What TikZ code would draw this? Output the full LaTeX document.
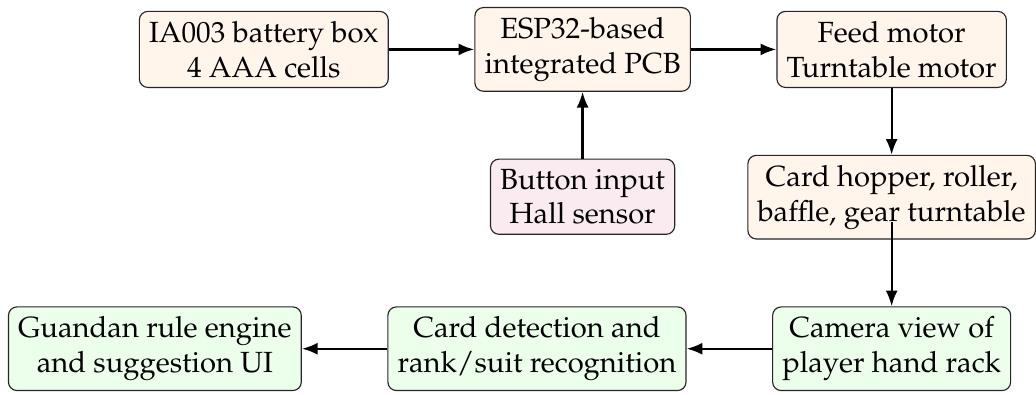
\documentclass[tikz,border=0pt]{standalone}
\usepackage[T1]{fontenc}
\usepackage{mathpazo}
\usepackage{tikz}
\usetikzlibrary{positioning}
\usetikzlibrary{arrows.meta}
\usetikzlibrary{calc}
\tikzstyle{block} = [draw=black!85, rectangle, rounded corners=3pt, align=center, inner sep=3.4pt, font=\fontsize{10.2}{12.2}\selectfont]
\tikzstyle{hw} = [block, fill=orange!8]
\tikzstyle{sensor} = [block, fill=purple!8]
\tikzstyle{vision} = [block, fill=green!8]
\tikzstyle{link} = [->, thick]

\begin{document}
\begin{tikzpicture}[>={Latex[length=5.5pt,width=4.2pt]}, node distance=0.82cm and 1.05cm]
    \node[hw, name=battery] {IA003 battery box\\4 AAA cells};
    \node[hw, right=of battery, name=esp] {ESP32-based\\integrated PCB};
    \node[hw, right=of esp, name=motor] {Feed motor\\Turntable motor};
    \node[sensor, below=of esp, name=button] {Button input\\Hall sensor};
    \node[hw, below=of motor, name=hopper] {Card hopper, roller,\\baffle, gear turntable};
    \node[vision, below=of hopper, name=camera] {Camera view of\\player hand rack};
    \node[vision, left=of camera, name=detect] {Card detection and\\rank/suit recognition};
    \node[vision, left=of detect, name=rules] {Guandan rule engine\\and suggestion UI};

    \draw[link] (battery) -- (esp);
    \draw[link] (button) -- (esp);
    \draw[link] (esp) -- (motor);
    \draw[link] (motor) -- (hopper);
    \draw[link, shorten <=-6pt] (hopper.south) -- (camera.north);
    \draw[link] (camera) -- (detect);
    \draw[link] (detect) -- (rules);

    % page frame
    \coordinate (ne) at ($(hopper.east |- esp.north) + (0,0.086)$);
    \useasboundingbox (ne) rectangle ($(ne) + (-12.73,-4.85)$);
\end{tikzpicture}
\end{document}
